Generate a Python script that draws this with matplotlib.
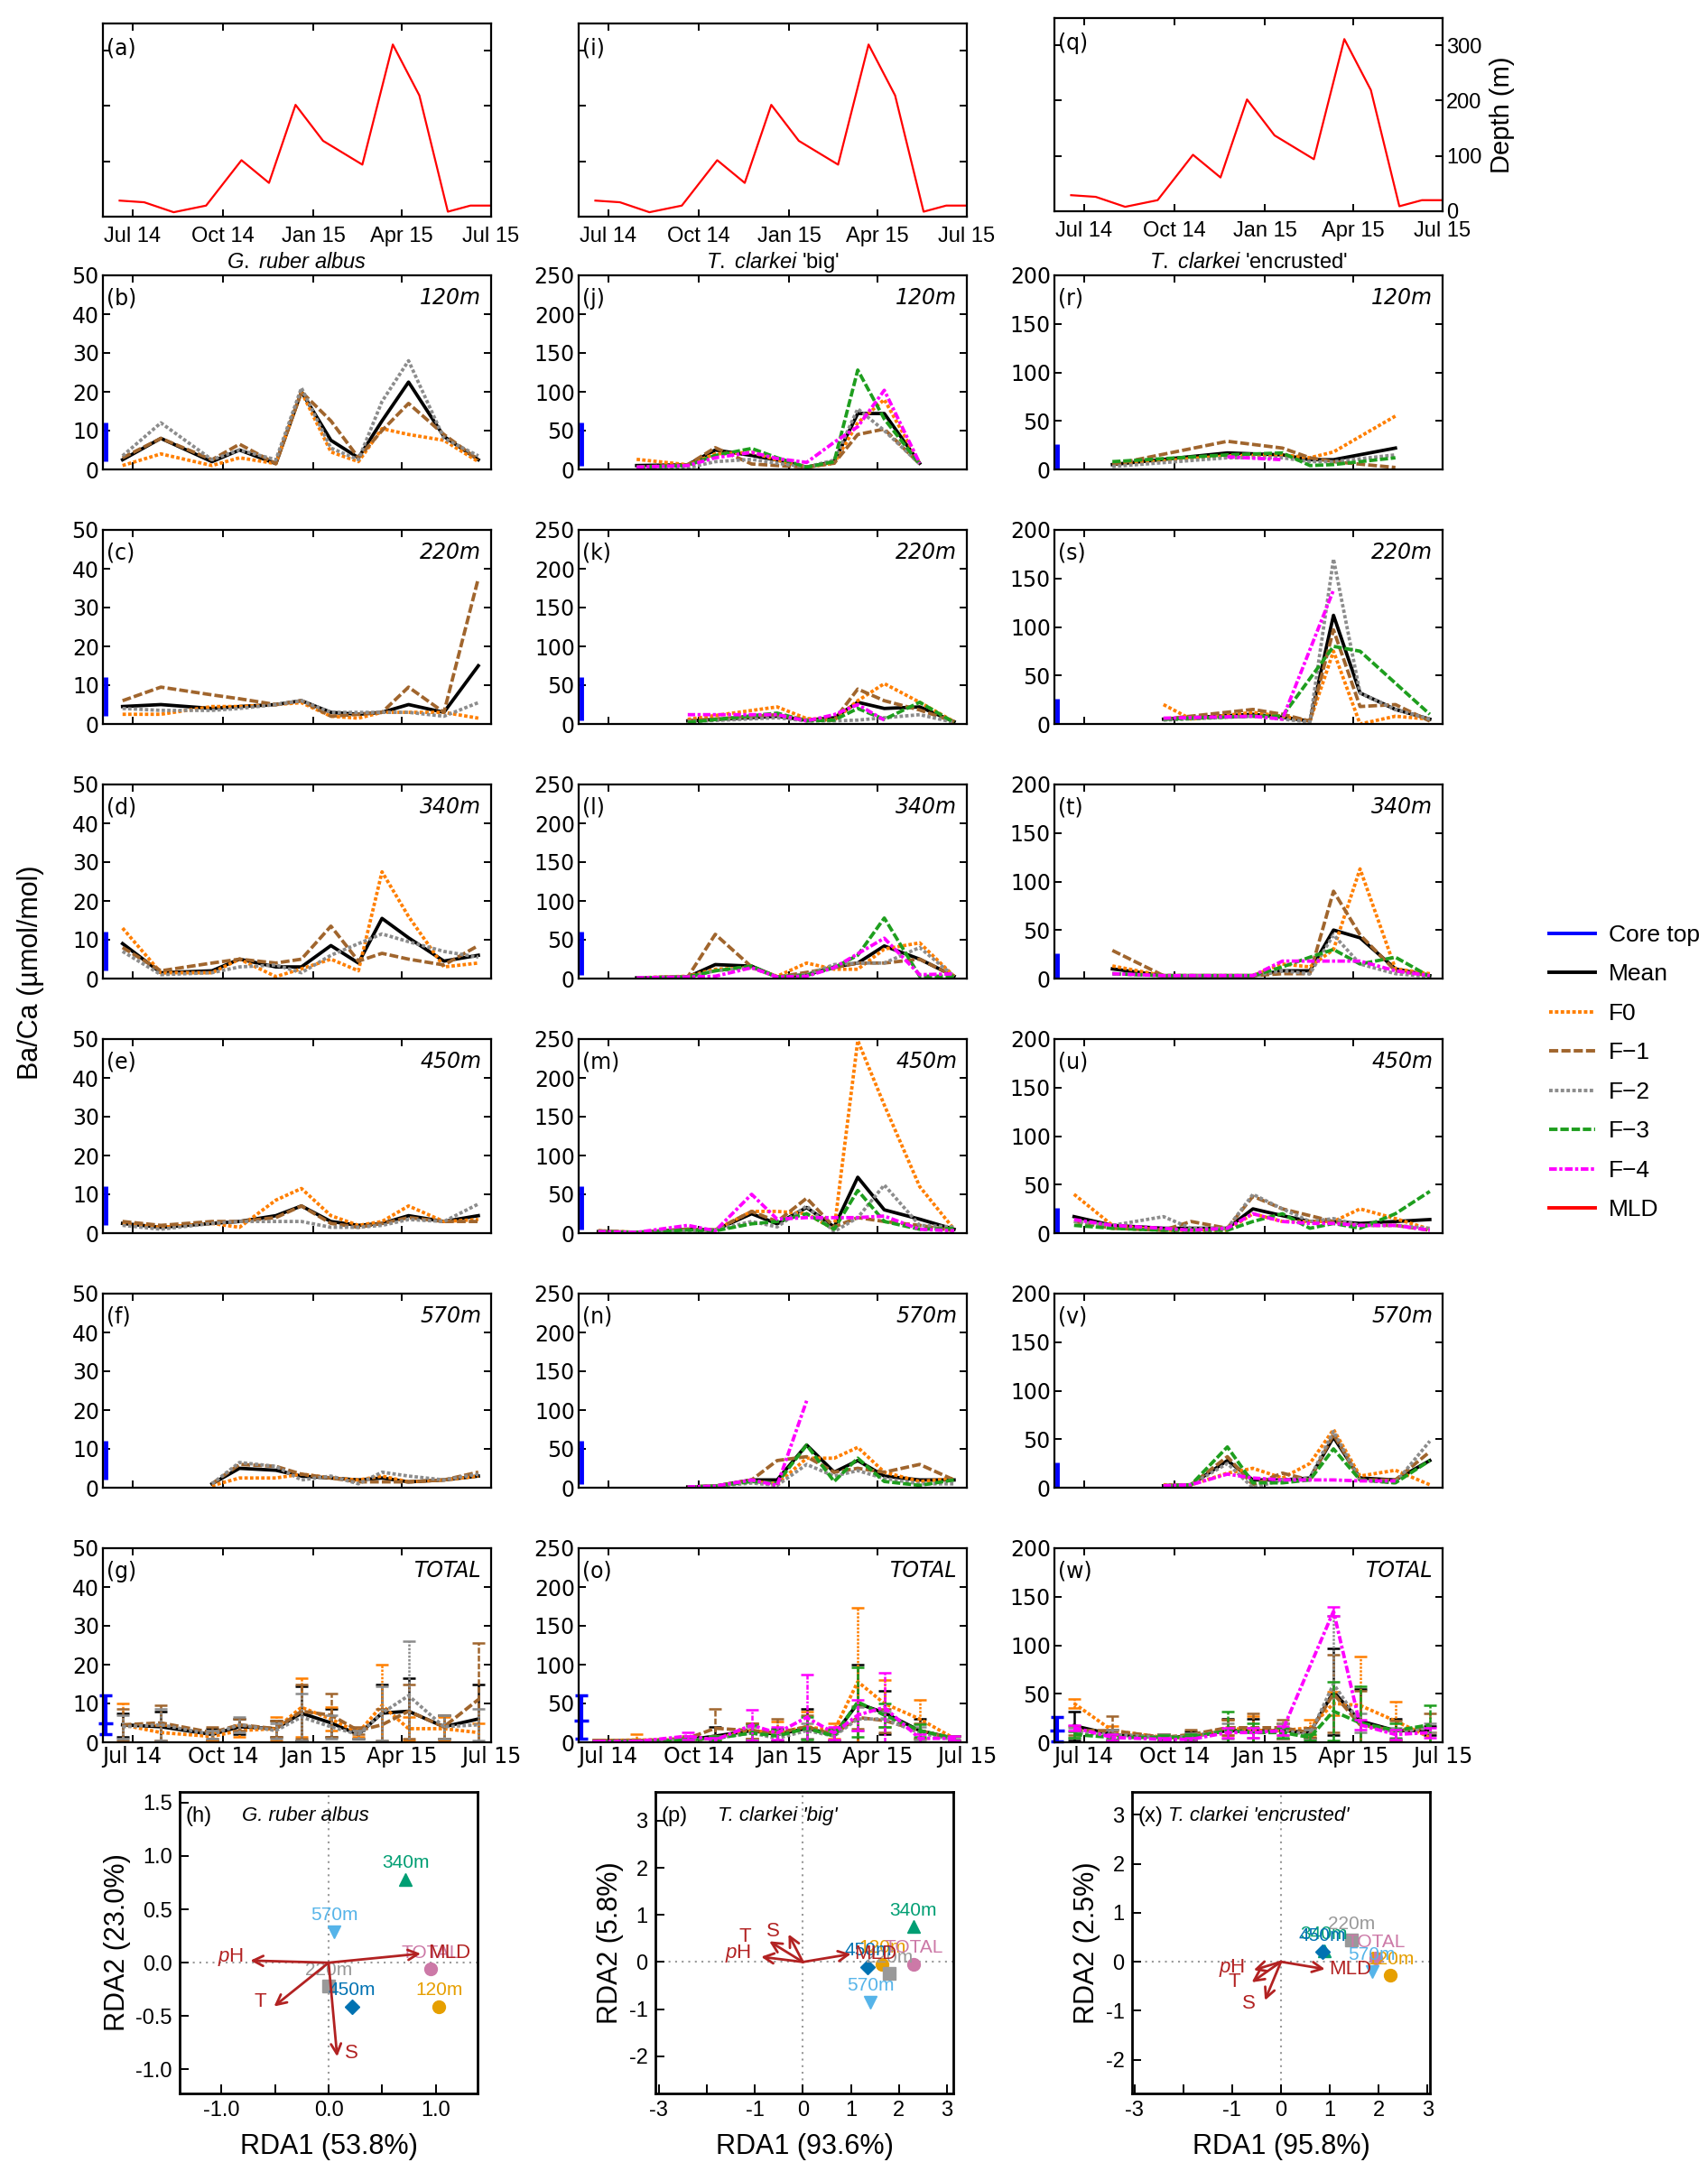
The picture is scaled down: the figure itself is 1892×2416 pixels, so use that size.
import numpy as np
import matplotlib.pyplot as plt
import matplotlib.dates as mdates
from matplotlib.lines import Line2D

nan = np.nan

# sediment trap cup mid dates
cup_dates = ['2014-06-21', '2014-07-30', '2014-09-20', '2014-10-18', '2014-11-24', '2014-12-20',
             '2015-01-19', '2015-02-16', '2015-03-12', '2015-04-08', '2015-05-14', '2015-06-18']
mld_dates = ['2014-06-18', '2014-07-13', '2014-08-12', '2014-09-14', '2014-10-20', '2014-11-17',
             '2014-12-14', '2015-01-11', '2015-02-20', '2015-03-23', '2015-04-19', '2015-05-18',
             '2015-06-10', '2015-06-30']
mld_depth = [29, 26, 8, 20, 102, 61, 202, 137, 94, 311, 219, 9, 20, 20]

tick_dates = ['2014-07-01', '2014-10-01', '2015-01-01', '2015-04-01', '2015-07-01']
tick_labels = ['Jul 14', 'Oct 14', 'Jan 15', 'Apr 15', 'Jul 15']
depths = ['120m', '220m', '340m', '450m', '570m', 'TOTAL']
series_labels = ['Mean', 'F0', 'F\u22121', 'F\u22122', 'F\u22123', 'F\u22124']

# G. ruber albus, rows: Mean, F0, F-1, F-2
ruber_120 = [[2.5, 8, 2, 5, 1.5, 20, 7.5, 3, 12.5, 22.5, 8.5, 2.5],
             [1, 4, 1, 3, 1.5, 20, 4.5, 2, 10.5, 9, 7.5, 2],
             [3, 8, 2.5, 6.5, 1.5, 20, 12.5, 3, 10, 17, 9, 2.5],
             [3.5, 12, 2.5, 5, 2.5, 21, 5.5, 2.5, 17.5, 28, 8, 3.5]]
ruber_220 = [[4.5, 5, 4, 4.5, 5, 6, 3, 2.5, 3, 5, 3, 15],
             [2.5, 2.5, 4.5, 4.5, 5, 5.5, 2, 1.5, 3, 3, 3, 1.5],
             [6, 9.5, 7.5, 6.5, 5, 6, 2, 2.5, 3, 9.5, 3, 37.5],
             [4, 3.5, 3.5, 4, 5, 6, 3, 3, 3, 3, 2, 5.5]]
ruber_340 = [[9, 1.5, 2, 5, 3, 3, 8.5, 4, 15.5, 10.5, 4.5, 6],
             [13, 1.5, 1.5, 5, 0.5, 2.5, 5, 2, 27.5, 16, 3, 4],
             [8, 2, 4, 5, 4, 5, 13.5, 4.5, 6.5, 5, 3.5, 8.5],
             [7, 1, 1.5, 3, 3.5, 1.5, 6, 9, 11.5, 9.5, 7, 5.5]]
ruber_450 = [[2.5, 1.5, 2.5, 3, 4.5, 7, 3, 2, 2.5, 4.5, 3, 4.5],
             [2.5, 1.5, 2.5, 1.5, 8.5, 11.5, 4.5, 2, 3, 7, 3, 3.5],
             [3, 2, 3, 3, 4, 7, 2.5, 1.5, 2.5, 4, 3, 3],
             [2, 1, 2.5, 3, 3, 3, 1.5, 1.5, 2, 3.5, 3, 7.5]]
ruber_570 = [[nan, nan, 1, 5, 4.5, 3, 2.5, 2, 2.5, 1.5, 2, 3],
             [nan, nan, 0.5, 2.5, 2.5, 3.5, 2.5, 2, 3, 1.5, 2, 3],
             [nan, nan, 1, 6, 5.5, 3.5, 2.5, 1.5, 1.5, 1.5, 2, 4],
             [nan, nan, 1, 6.5, 5.5, 2, 3, 1, 4, 3, 2, 3.5]]
ruber_total = [[4.5, 4, 2, 4, 3.5, 7.5, 5, 2, 7.5, 8, 4, 6],
               [4.5, 2.5, 1.5, 3, 3.5, 9, 6, 2.5, 9.5, 3.5, 3.5, 2.5],
               [4.5, 5, 2.5, 4.5, 3.5, 8, 7, 3, 4.5, 8, 4, 11],
               [4, 4.5, 2, 4.5, 3, 6.5, 4, 2, 7.5, 12, 4, 4.5]]
ruber_total_err = [[3, 4, 1.5, 2, 2, 7, 3.5, 1, 7.5, 8.5, 3, 9],
                   [5.5, 2, 1, 1.5, 3, 7.5, 3, 1, 10.5, 3, 3, 2.5],
                   [4, 4.5, 1.5, 1.5, 2, 7, 5.5, 1, 4, 7, 3, 14.5],
                   [3, 4, 1, 2, 2, 6, 3, 1, 7, 14, 3, 4]]

# T. clarkei 'big', rows: Mean, F0, F-1, F-2, F-3, F-4
big_120 = [[nan, 5, 6, 25, 18, 12, 3, 10, 72, 72, 8, nan],
           [nan, 13, 6, 20, 22, 12, 3, 8, 60, 90, 8, nan],
           [nan, 3, 6, 28, 7, 5, 3, 8, 45, 52, 7, nan],
           [nan, 2, 2, 10, 13, 8, 3, 12, 78, 50, 7, nan],
           [nan, 3, 5, 18, 27, 15, 3, 10, 128, 65, 7, nan],
           [nan, 3, 5, 15, 22, 14, 9, 35, 55, 102, 8, nan]]
big_220 = [[nan, nan, 4, nan, nan, 10, 5, 8, 28, 20, 22, 3],
           [nan, nan, 6, nan, nan, 22, 7, 5, 30, 52, 28, 3],
           [nan, nan, 4, nan, nan, 12, 5, 5, 45, 30, 18, 3],
           [nan, nan, 3, nan, nan, 8, 4, 4, 5, 8, 12, 2],
           [nan, nan, 2, nan, nan, 14, 4, 5, 20, 6, 28, 2],
           [nan, nan, 12, nan, nan, 12, 4, 12, 25, 5, nan, nan]]
big_340 = [[nan, 1, 2, 18, 16, 2, 5, 15, 20, 42, 25, 3],
           [nan, 1, 3, 12, 14, 3, 20, 12, 12, 38, 46, 3],
           [nan, 1, 2, 57, 15, 2, 8, 14, 20, 20, 25, 3],
           [nan, 1, 2, 10, 14, 2, 5, 18, 20, 20, 40, 3],
           [nan, 1, 2, 10, 16, 2, 4, 14, 30, 78, 3, 3],
           [nan, 1, 2, 3, 14, 2, 3, 14, 32, 52, 5, 6]]
big_450 = [[2, 1, 5, 4, 25, 12, 33, 8, 72, 30, 18, 5],
           [3, 1, 4, 4, 28, 28, 25, 5, 248, 165, 60, 5],
           [3, 1, 5, 4, 28, 15, 45, 8, 20, 15, 10, 3],
           [2, 1, 3, 4, 15, 8, 35, 2, 20, 62, 10, 8],
           [2, 1, 4, 3, 12, 15, 25, 5, 55, 15, 5, 6],
           [2, 1, 10, 3, 50, 18, 20, 20, 20, 22, 5, 3]]
big_570 = [[nan, nan, 1, 2, 10, 10, 55, 20, 35, 15, 10, 10],
           [nan, nan, 1, 2, 8, 5, 38, 38, 52, 20, 8, 12],
           [nan, nan, 1, 2, 10, 35, 40, 20, 25, 20, 30, 10],
           [nan, nan, 1, 2, 6, 3, 30, 15, 22, 12, 5, 5],
           [nan, nan, 1, 2, 8, 6, 55, 8, 38, 8, 3, 10],
           [nan, nan, 1, 2, 10, 3, 112, nan, nan, nan, nan, nan]]
big_total = [[2, 2, 3, 8, 15, 10, 18, 10, 50, 38, 15, 5],
             [2, 3, 3, 5, 15, 12, 20, 15, 78, 50, 30, 5],
             [2, 2, 5, 18, 15, 12, 20, 10, 32, 28, 15, 5],
             [1, 1, 3, 5, 12, 5, 15, 8, 30, 30, 12, 3],
             [1, 1, 3, 5, 12, 8, 18, 8, 52, 35, 15, 5],
             [1, 1, 8, 3, 22, 12, 32, 12, 35, 45, 5, 5]]
big_total_err = [[1, 1, 2, 12, 10, 8, 25, 8, 50, 28, 15, 3],
                 [1, 8, 2, 3, 10, 15, 20, 10, 95, 30, 25, 3],
                 [1, 1, 3, 25, 10, 18, 15, 8, 15, 15, 10, 3],
                 [1, 1, 2, 3, 8, 5, 10, 6, 15, 10, 8, 2],
                 [1, 1, 2, 3, 10, 8, 15, 8, 45, 15, 8, 3],
                 [1, 1, 5, 3, 20, 8, 55, 8, 20, 45, 5, 3]]

# T. clarkei 'encrusted'
enc_120 = [[nan, 5, nan, nan, 17, nan, 15, 10, 10, nan, 22, nan],
           [nan, 5, nan, nan, 14, nan, 15, 12, 18, nan, 55, nan],
           [nan, 5, nan, nan, 29, nan, 22, 12, 8, nan, 2, nan],
           [nan, 3, nan, nan, 12, nan, 12, 8, 8, nan, 15, nan],
           [nan, 8, nan, nan, 15, nan, 17, 4, 5, nan, 12, nan],
           [nan, nan, nan, nan, 13, nan, 10, nan, nan, nan, nan, nan]]
enc_220 = [[nan, nan, 5, nan, nan, 10, 7, 3, 112, 32, 15, 5],
           [nan, nan, 20, 5, nan, 12, 8, 3, 75, 0, 8, 5],
           [nan, nan, 5, nan, nan, 15, 10, 3, 97, 18, 20, 3],
           [nan, nan, 4, nan, nan, 8, 5, 2, 170, 32, 15, 5],
           [nan, nan, 5, nan, nan, 8, 8, nan, 80, 75, nan, 10],
           [nan, nan, 6, nan, nan, 8, 5, nan, 138, nan, nan, nan]]
enc_340 = [[nan, 10, 3, nan, nan, 3, 8, 8, 50, 42, 10, 3],
           [nan, 13, 3, nan, nan, 3, 15, 12, 30, 113, 10, 5],
           [nan, 29, 3, nan, nan, 3, 5, 5, 90, 45, 8, 3],
           [nan, 5, 3, nan, nan, 3, 8, 5, 45, 15, 5, 2],
           [nan, 5, 3, nan, nan, 3, 12, 22, 30, 15, 22, 2],
           [nan, 5, 3, nan, nan, 3, 18, 18, 18, 18, 8, 3]]
enc_450 = [[17, 8, 5, 5, 5, 25, 18, 12, 12, 10, 12, 14],
           [40, 8, 3, 3, 3, 20, 12, 12, 12, 25, 15, 4],
           [12, 5, 3, 12, 5, 38, 25, 18, 12, 8, 8, 3],
           [12, 8, 17, 5, 5, 40, 25, 12, 15, 8, 8, 5],
           [8, 5, 3, 3, 3, 12, 20, 5, 10, 5, 20, 43],
           [14, 8, 5, 3, 5, 20, 12, 10, 10, 8, 8, 3]]
enc_570 = [[nan, nan, 2, 3, 28, 8, 8, 10, 52, 10, 8, 28],
           [nan, nan, 3, 3, 15, 20, 10, 25, 60, 12, 18, 3],
           [nan, nan, 2, 3, 32, 3, 15, 8, 55, 8, 8, 37],
           [nan, nan, 2, 3, 25, 0, 8, 10, 58, 8, 5, 48],
           [nan, nan, 2, 3, 42, 5, 5, 8, 40, 8, 5, 28],
           [nan, nan, 2, 3, 14, 10, 8, 8, 8, 7, 7, nan]]
enc_total = [[17, 8, 5, 6, 12, 12, 12, 10, 52, 22, 12, 12],
             [40, 12, 5, 5, 15, 12, 12, 15, 40, 38, 22, 5],
             [12, 12, 5, 8, 15, 15, 15, 10, 50, 18, 12, 15],
             [10, 8, 5, 6, 12, 10, 12, 8, 60, 20, 10, 15],
             [8, 5, 5, 5, 12, 10, 10, 5, 32, 20, 12, 18],
             [15, 5, 3, 3, 10, 10, 12, nan, 135, 18, 8, 10]]
enc_total_err = [[15, 5, 3, 5, 12, 12, 8, 5, 45, 33, 12, 5],
                 [5, 5, 3, 3, 8, 15, 8, 8, 12, 50, 20, 5],
                 [5, 15, 3, 5, 8, 15, 8, 5, 40, 35, 10, 15],
                 [5, 5, 3, 3, 8, 5, 8, 5, 70, 10, 5, 5],
                 [3, 3, 2, 3, 20, 10, 5, 3, 30, 38, 8, 20],
                 [3, 3, 2, 2, 5, 5, 5, nan, 5, 5, 5, 5]]

# core top range (low, high, mean)
core_ruber = [2, 12, 5]
core_big = [5, 60, 28]
core_enc = [1, 26, 12]

# RDA
rda_sites = ['120m', '220m', '340m', '450m', '570m', 'TOTAL']
rda_vars = ['$\\it{p}$H', 'T', 'S', 'MLD']
ruber_site_x = [1.03, 0.0, 0.72, 0.22, 0.05, 0.95]
ruber_site_y = [-0.41, -0.22, 0.78, -0.41, 0.29, -0.06]
ruber_arrow_x = [-0.73, -0.51, 0.08, 0.86]
ruber_arrow_y = [0.02, -0.41, -0.88, 0.085]
ruber_varlab_x = [-0.91, -0.64, 0.21, 1.13]
ruber_varlab_y = [0.05, -0.37, -0.85, 0.09]
big_site_x = [1.65, 1.8, 2.3, 1.35, 1.4, 2.3]
big_site_y = [-0.05, -0.25, 0.75, -0.1, -0.85, -0.05]
big_arrow_x = [-0.87, -0.7, -0.3, 1.0]
big_arrow_y = [0.11, 0.44, 0.59, 0.17]
big_varlab_x = [-1.35, -1.2, -0.62, 1.5]
big_varlab_y = [0.18, 0.53, 0.64, 0.18]
enc_site_x = [2.24, 1.45, 0.88, 0.85, 1.86, 1.95]
enc_site_y = [-0.28, 0.44, 0.23, 0.2, -0.2, 0.07]
enc_arrow_x = [-0.56, -0.6, -0.33, 0.9]
enc_arrow_y = [-0.17, -0.42, -0.79, -0.15]
enc_varlab_x = [-1.0, -0.95, -0.65, 1.42]
enc_varlab_y = [-0.12, -0.42, -0.85, -0.15]

W, H = 1892, 2416
fig = plt.figure(figsize=(W / 100, H / 100), dpi=100)
plt.rcParams['mathtext.fontset'] = 'custom'
plt.rcParams['mathtext.rm'] = 'Liberation Sans'
plt.rcParams['mathtext.it'] = 'Liberation Sans:italic'

SANS = 'Liberation Sans'
TS = 'DejaVu Sans'
colors = ['black', '#FF7F00', '#A0652D', '#8C8C8C', '#1E9E1E', '#FF00FF']
styles = ['-', (0, (1.0, 0.65)), (0, (2.6, 0.9)), (0, (1.0, 0.65)), (0, (2.4, 0.8)),
          (0, (2.2, 0.7, 0.9, 0.7))]
site_colors = ['#E69F00', '#999999', '#009E73', '#0072B2', '#56B4E9', '#CC79A7']
site_markers = ['o', 's', '^', 'D', 'v', 'o']
arrow_col = '#B22222'

x_cup = mdates.date2num(np.array(cup_dates, dtype='datetime64[D]'))
x_mld = mdates.date2num(np.array(mld_dates, dtype='datetime64[D]'))
x_ticks = mdates.date2num(np.array(tick_dates, dtype='datetime64[D]'))
x_lim = mdates.date2num(np.array(['2014-06-01', '2015-07-01'], dtype='datetime64[D]'))
x_core = x_lim[0] + 2.5


def px_axes(left, top, w, h):
    return fig.add_axes([left / W, 1 - (top + h) / H, w / W, h / H])


def style_axes(ax, lw=1.6):
    for s in ax.spines.values():
        s.set_linewidth(lw)
    ax.tick_params(direction='in', top=True, right=True, length=6, width=1.4, labelsize=17, pad=3)


col_left = [114, 641, 1168]
col_w = 430
row_top = [305, 587, 869, 1151, 1433, 1715]
row_h = 215

# MLD panels
top_pos = [26, 26, 20]
for c, letter in enumerate(['(a)', '(i)', '(q)']):
    ax = px_axes(col_left[c], top_pos[c], col_w, 214)
    style_axes(ax)
    ax.plot(x_mld, mld_depth, color='red', lw=1.6)
    ax.set_xlim(*x_lim)
    ax.set_ylim(0, 349)
    ax.set_yticks([0, 100, 200, 300])
    ax.set_xticks(x_ticks)
    ax.set_xticklabels(tick_labels, family=SANS, fontsize=17)
    ax.tick_params(axis='x', pad=8)
    if c == 2:
        ax.tick_params(labelleft=False, labelright=True)
        for t in ax.get_yticklabels():
            t.set_family(SANS)
        ax.yaxis.set_label_position('right')
        ax.set_ylabel('Depth (m)', family=SANS, fontsize=21, labelpad=6)
    else:
        ax.tick_params(labelleft=False)
    ax.text(0.01, 0.87, letter, transform=ax.transAxes, fontsize=17, family=TS, va='center')

species = [r'$\it{G.\ ruber\ albus}$', r"$\it{T.\ clarkei}$ 'big'", r"$\it{T.\ clarkei}$ 'encrusted'"]
for c, name in enumerate(species):
    fig.text((col_left[c] + col_w / 2) / W, 1 - 291 / H, name, ha='center', va='center',
             fontsize=17, family=SANS)

panels = [[ruber_120, ruber_220, ruber_340, ruber_450, ruber_570, ruber_total],
          [big_120, big_220, big_340, big_450, big_570, big_total]]
panels.append([enc_120, enc_220, enc_340, enc_450, enc_570, enc_total])
errors = [ruber_total_err, big_total_err, enc_total_err]
cores = [core_ruber, core_big, core_enc]
ymax = [50, 250, 200]
ystep = [10, 50, 50]
letters = ['bcdefg', 'jklmno', 'rstuvw']

for c in range(3):
    for r in range(6):
        ax = px_axes(col_left[c], row_top[r], col_w, row_h)
        style_axes(ax)
        rows = panels[c][r]
        for k, vals in enumerate(rows):
            y = np.array(vals, float)
            ok = ~np.isnan(y)
            ax.plot(x_cup[ok], y[ok], color=colors[k], ls=styles[k], lw=2.7,
                    dash_capstyle='butt')
            if r == 5:
                e = np.array(errors[c][k], float)
                ok2 = ok & ~np.isnan(e)
                eb = ax.errorbar(x_cup[ok2], y[ok2], yerr=e[ok2], fmt='none', ecolor=colors[k],
                                 elinewidth=1.8, capsize=5, capthick=1.8)
                eb[2][0].set_linestyle(styles[k] if k else '-')
        lo, hi, mid = cores[c]
        if r == 5:
            ax.errorbar([x_core], [mid], yerr=[[mid - lo], [hi - mid]], fmt='_', color='blue',
                        ms=12, mew=2.5, elinewidth=3, capsize=5, capthick=2.5, clip_on=False)
        else:
            ax.plot([x_core, x_core], [lo, hi], color='blue', lw=3.5, solid_capstyle='butt')
        ax.set_xlim(*x_lim)
        ax.set_ylim(0, ymax[c])
        ax.set_yticks(np.arange(0, ymax[c] + 1, ystep[c]))
        ax.set_xticks(x_ticks)
        if r == 5:
            ax.set_xticklabels(tick_labels, fontsize=17, family=TS)
        else:
            ax.set_xticklabels([])
        ax.text(0.01, 0.88, '(%s)' % letters[c][r], transform=ax.transAxes, fontsize=17,
                family=TS, va='center')
        ax.text(0.975, 0.885, depths[r], transform=ax.transAxes, fontsize=17, family=TS,
                va='center', ha='right', style='italic')

fig.text(34 / W, 1 - 1077 / H, 'Ba/Ca (\u00b5mol/mol)', rotation=90, ha='center', va='center',
         fontsize=22, family=SANS)

handles = [Line2D([], [], color='blue', lw=2.8)]
handles += [Line2D([], [], color=colors[k], ls=styles[k], lw=2.8) for k in range(6)]
handles.append(Line2D([], [], color='red', lw=2.8))
fig.legend(handles, ['Core top'] + series_labels + ['MLD'], loc='upper left',
           bbox_to_anchor=(1692 / W, 1 - 1000 / H), frameon=False, handlelength=1.95,
           labelspacing=0.74, handletextpad=0.55, prop={'family': SANS, 'size': 19})

# RDA panels
rda = [(ruber_site_x, ruber_site_y, ruber_arrow_x, ruber_arrow_y, ruber_varlab_x, ruber_varlab_y),
       (big_site_x, big_site_y, big_arrow_x, big_arrow_y, big_varlab_x, big_varlab_y),
       (enc_site_x, enc_site_y, enc_arrow_x, enc_arrow_y, enc_varlab_x, enc_varlab_y)]
rda_left = [199, 726, 1254]
rda_titles = ['(h)', '(p)', '(x)']
rda_species = ['G. ruber albus', "T. clarkei 'big'", "T. clarkei 'encrusted'"]
rda_xlab = ['RDA1 (53.8%)', 'RDA1 (93.6%)', 'RDA1 (95.8%)']
rda_ylab = ['RDA2 (23.0%)', 'RDA2 (5.8%)', 'RDA2 (2.5%)']
rda_xlim = [(-1.39, 1.39), (-3.07, 3.13), (-3.05, 3.05)]
rda_ylim = [(-1.225, 1.60), (-2.79, 3.61), (-2.69, 3.47)]

for c in range(3):
    sx, sy, ax_, ay_, lx, ly = rda[c]
    ax = px_axes(rda_left[c], 1985, 330, 334)
    for s in ax.spines.values():
        s.set_linewidth(2.0)
    ax.tick_params(direction='in', length=7, width=1.4, labelsize=17, pad=6)
    ax.axhline(0, color='#999999', ls=(0, (1, 2.5)), lw=1.5, zorder=0)
    ax.axvline(0, color='#999999', ls=(0, (1, 2.5)), lw=1.5, zorder=0)
    for k in range(len(rda_sites)):
        ax.plot(sx[k], sy[k], marker=site_markers[k], color=site_colors[k], ms=10 if k != 3 else 8,
                ls='none')
        ax.annotate(rda_sites[k], (sx[k], sy[k]), xytext=(0, 13), textcoords='offset points',
                    ha='center', va='center', color=site_colors[k], fontsize=15, family=SANS)
    for k in range(len(rda_vars)):
        ax.annotate('', xy=(ax_[k], ay_[k]), xytext=(0, 0),
                    arrowprops=dict(arrowstyle='->', color=arrow_col, lw=2.0, mutation_scale=20,
                                    shrinkA=0, shrinkB=0))
        ax.text(lx[k], ly[k], rda_vars[k], color=arrow_col, fontsize=16, family=SANS,
                ha='center', va='center')
    ax.set_xlim(*rda_xlim[c])
    ax.set_ylim(*rda_ylim[c])
    if c == 0:
        ax.set_xticks([-1, -0.5, 0, 0.5, 1])
        ax.set_xticklabels(['-1.0', '', '0.0', '', '1.0'])
        ax.set_yticks([-1, -0.5, 0, 0.5, 1, 1.5])
        ax.set_yticklabels(['-1.0', '-0.5', '0.0', '0.5', '1.0', '1.5'])
    else:
        ax.set_xticks([-3, -2, -1, 0, 1, 2, 3])
        ax.set_xticklabels(['-3', '', '-1', '0', '1', '2', '3'])
        ax.set_yticks([-2, -1, 0, 1, 2, 3])
        ax.set_yticklabels(['-2', '-1', '0', '1', '2', '3'])
    for t in ax.get_xticklabels() + ax.get_yticklabels():
        t.set_family(SANS)
    ax.set_xlabel(rda_xlab[c], family=SANS, fontsize=22, labelpad=10)
    ax.set_ylabel(rda_ylab[c], family=SANS, fontsize=22, labelpad=4)
    ax.text(0.02, 0.92, rda_titles[c], transform=ax.transAxes, fontsize=17, family=SANS, va='center')
    ax.text(0.12 if c == 2 else 0.21, 0.92, rda_species[c], transform=ax.transAxes, fontsize=16,
            family=SANS, style='italic', va='center')

fig.savefig('out.png', dpi=100)
